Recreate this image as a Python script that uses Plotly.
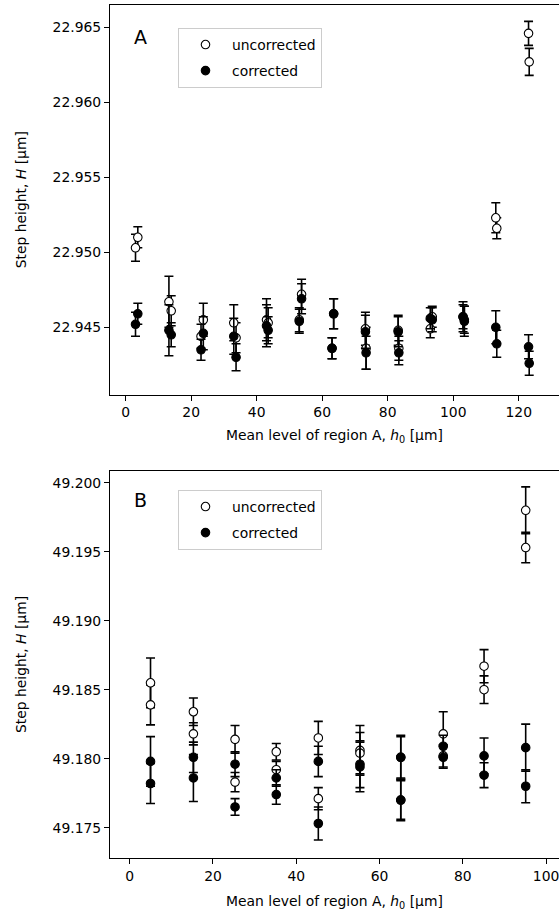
import plotly.graph_objects as go

# ---------------- Panel A data ----------------
xA = [3.0, 3.7, 13.2, 13.9, 23.0, 23.7, 33.0, 33.7, 43.0, 43.5, 53.0, 53.7, 63.0, 63.5,
      73.2, 73.4, 83.2, 83.4, 93.0, 93.6, 103.0, 103.4, 113.0, 113.3, 123.0, 123.2]
A_uncorr = [22.9503, 22.9510, 22.9467, 22.9461, 22.9444, 22.9455, 22.9453, 22.9443,
            22.9455, 22.9453, 22.9455, 22.9472, 22.9436, 22.9459, 22.9449, 22.9436,
            22.9448, 22.9436, 22.9449, 22.9457, 22.9457, 22.9455, 22.9523, 22.9516,
            22.9646, 22.9627]
A_uncorr_err = [0.0009, 0.0007, 0.0017, 0.0010, 0.0008, 0.0011, 0.0012, 0.0010,
                0.0014, 0.0010, 0.0008, 0.0010, 0.0007, 0.0010, 0.0011, 0.0014,
                0.0010, 0.0008, 0.0006, 0.0007, 0.0010, 0.0009, 0.0010, 0.0007,
                0.0008, 0.0009]
A_corr = [22.9452, 22.9459, 22.9448, 22.9445, 22.9435, 22.9446, 22.9444, 22.9430,
          22.9451, 22.9448, 22.9454, 22.9469, 22.9436, 22.9459, 22.9447, 22.9433,
          22.9447, 22.9433, 22.9456, 22.9455, 22.9457, 22.9454, 22.9450, 22.9439,
          22.9437, 22.9426]
A_corr_err = [0.0008, 0.0007, 0.0017, 0.0008, 0.0007, 0.0011, 0.0012, 0.0009,
              0.0014, 0.0009, 0.0008, 0.0010, 0.0007, 0.0010, 0.0011, 0.0011,
              0.0010, 0.0008, 0.0007, 0.0008, 0.0008, 0.0010, 0.0011, 0.0009,
              0.0008, 0.0008]

# ---------------- Panel B data ----------------
xB = [5.0, 5.0, 15.3, 15.3, 25.3, 25.3, 35.2, 35.2, 45.3, 45.3,
      55.3, 55.3, 65.1, 65.1, 75.3, 75.3, 85.1, 85.1, 95.1, 95.1]
B_uncorr = [49.1855, 49.1839, 49.1834, 49.1818, 49.1814, 49.1783, 49.1805, 49.1792,
            49.1815, 49.1771, 49.1806, 49.1804, 49.1801, 49.1770, 49.1818, 49.1802,
            49.1867, 49.1850, 49.1980, 49.1953]
B_uncorr_err = [0.0018, 0.00145, 0.0010, 0.0008, 0.0010, 0.0007, 0.0006, 0.0006,
                0.0012, 0.0008, 0.0018, 0.0015, 0.0015, 0.0014, 0.0016, 0.0008,
                0.0012, 0.0010, 0.0017, 0.0011]
B_corr = [49.1798, 49.1782, 49.1801, 49.1786, 49.1796, 49.1765, 49.1786, 49.1774,
          49.1798, 49.1753, 49.1796, 49.1794, 49.1801, 49.1770, 49.1809, 49.1801,
          49.1802, 49.1788, 49.1808, 49.1780]
B_corr_err = [0.0018, 0.00145, 0.0011, 0.0017, 0.0009, 0.0006, 0.0006, 0.0007,
              0.0011, 0.0012, 0.0017, 0.0018, 0.0016, 0.0015, 0.0008, 0.0008,
              0.0013, 0.0009, 0.0017, 0.0012]

FONT = "DejaVu Sans"
FS = 13.9
W, H = 559, 917


def err(arr):
    return dict(type="data", array=arr, visible=True, color="black",
                thickness=1.6, width=4.5)


fig = go.Figure()
for (x, yu, eu, yc, ec, xa, ya, leg) in [
        (xA, A_uncorr, A_uncorr_err, A_corr, A_corr_err, "x", "y", "legend"),
        (xB, B_uncorr, B_uncorr_err, B_corr, B_corr_err, "x2", "y2", "legend2")]:
    fig.add_trace(go.Scatter(
        x=x, y=yu, mode="markers", name="uncorrected", xaxis=xa, yaxis=ya,
        legend=leg, legendgroup="u" + leg,
        marker=dict(symbol="circle", size=8.5, color="white",
                    line=dict(color="black", width=1.1)),
        error_y=err(eu)))
    fig.add_trace(go.Scatter(
        x=x, y=yc, mode="markers", name="corrected", xaxis=xa, yaxis=ya,
        legend=leg, legendgroup="c" + leg,
        marker=dict(symbol="circle", size=8.5, color="black",
                    line=dict(color="black", width=1.1)),
        error_y=err(ec)))

axis_common = dict(showline=True, linecolor="black", linewidth=1.1,
                   ticks="outside", ticklen=5, tickwidth=1.1, tickcolor="black",
                   showgrid=False, zeroline=False,
                   tickfont=dict(family=FONT, size=FS, color="black"))

xtitle = "Mean level of region A, <i>h</i><sub>0</sub> [µm]"
ytitle = "Step height, <i>H</i> [µm]"

legend_common = dict(xanchor="left", yanchor="top",
                     bgcolor="rgba(255,255,255,0.8)", bordercolor="#cccccc", borderwidth=1,
                     font=dict(family=FONT, size=FS), tracegroupgap=5,
                     traceorder="grouped", itemwidth=43)

fig.update_layout(
    width=W, height=H,
    margin=dict(l=110, r=0, t=0, b=0),
    paper_bgcolor="white", plot_bgcolor="white",
    font=dict(family=FONT, size=FS, color="black"),
    xaxis=dict(axis_common, domain=[0, 1], range=[-4.79, 132.3], dtick=20, tick0=0,
               mirror=True, anchor="y", ticklabeloverflow="allow",
               title=dict(text=xtitle, standoff=11, font=dict(family=FONT, size=FS))),
    yaxis=dict(axis_common, domain=[1 - 394.5 / H, 1 - 5 / H],
               range=[22.94052, 22.96649], dtick=0.005, tick0=22.945,
               tickformat=".3f", anchor="x",
               title=dict(text=ytitle, standoff=22, font=dict(family=FONT, size=FS))),
    xaxis2=dict(axis_common, domain=[0, 1], range=[-4.73, 103.1], dtick=20, tick0=0,
                mirror=True, anchor="y2", ticklabeloverflow="allow",
                title=dict(text=xtitle, standoff=13, font=dict(family=FONT, size=FS))),
    yaxis2=dict(axis_common, domain=[1 - 858 / H, 1 - 471 / H],
                range=[49.17280, 49.20085], dtick=0.005, tick0=49.175,
                tickformat=".3f", anchor="x2",
                title=dict(text=ytitle, standoff=22, font=dict(family=FONT, size=FS))),
    legend=dict(legend_common, x=(178 - 110) / 449, y=1 - 28 / H),
    legend2=dict(legend_common, x=(178 - 110) / 449, y=1 - 490 / H),
    annotations=[
        dict(text="A", x=(140 - 110) / 449, y=1 - 37 / H, xref="paper", yref="paper",
             showarrow=False, xanchor="center", yanchor="middle",
             font=dict(family=FONT, size=19, color="black")),
        dict(text="B", x=(140 - 110) / 449, y=1 - 500 / H, xref="paper", yref="paper",
             showarrow=False, xanchor="center", yanchor="middle",
             font=dict(family=FONT, size=19, color="black")),
    ],
)

fig.write_html("out.html")
